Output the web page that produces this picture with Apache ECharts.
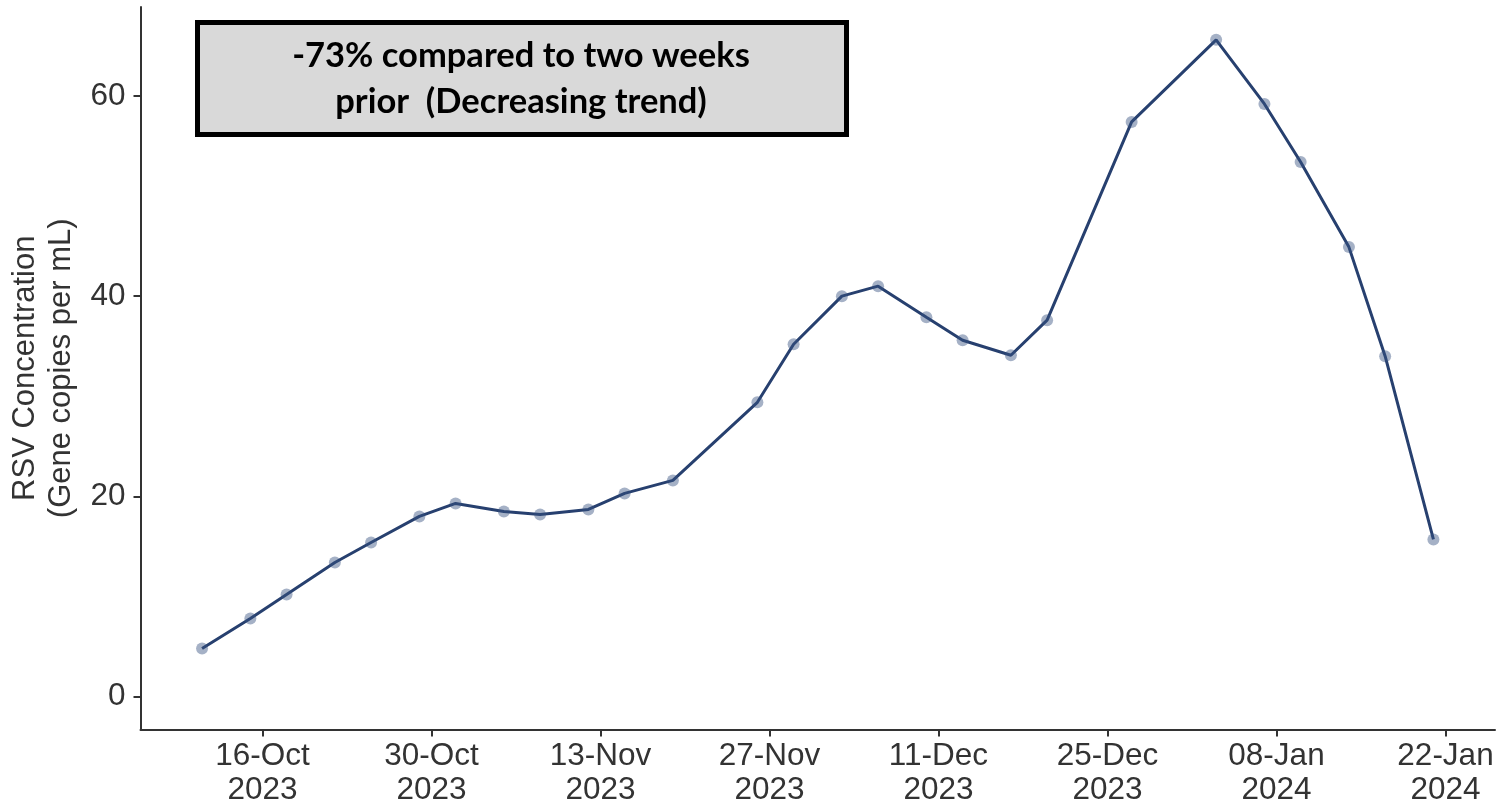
<!DOCTYPE html>
<html>
<head>
<meta charset="utf-8">
<script src="https://cdn.jsdelivr.net/npm/echarts@6/dist/echarts.min.js"></script>
<style>
html,body{margin:0;padding:0;background:#fff;}
#chart{width:1498px;height:807px;}
</style>
</head>
<body>
<div id="chart"></div>
<script>
// ---- data ----
const sampleDates = ['2023-10-11','2023-10-15','2023-10-18','2023-10-22','2023-10-25','2023-10-29',
  '2023-11-01','2023-11-05','2023-11-08','2023-11-12','2023-11-15','2023-11-19','2023-11-26',
  '2023-11-29','2023-12-03','2023-12-06','2023-12-10','2023-12-13','2023-12-17','2023-12-20',
  '2023-12-27','2024-01-03','2024-01-07','2024-01-10','2024-01-14','2024-01-17','2024-01-21'];
const rsvValues = [4.8, 7.8, 10.2, 13.4, 15.4, 18.0,
  19.3, 18.5, 18.2, 18.7, 20.3, 21.6, 29.4,
  35.2, 40.0, 41.0, 37.9, 35.6, 34.1, 37.6,
  57.4, 65.6, 59.2, 53.4, 44.9, 34.0, 15.7];
const xTickDates = ['2023-10-16','2023-10-30','2023-11-13','2023-11-27','2023-12-11','2023-12-25','2024-01-08','2024-01-22'];
const xTickLabels = ['16-Oct\n2023','30-Oct\n2023','13-Nov\n2023','27-Nov\n2023','11-Dec\n2023','25-Dec\n2023','08-Jan\n2024','22-Jan\n2024'];
const yTicks = [0, 20, 40, 60];
const yTitle = 'RSV Concentration\n(Gene copies per mL)';
const noteText = '-73% compared to two weeks\nprior  (Decreasing trend)';

// ---- build ----
const toMs = d => Date.parse(d + 'T00:00:00Z');
const xs = sampleDates.map(toMs);
const xTicks = xTickDates.map(toMs);
const xSpan = xs[xs.length - 1] - xs[0];
const xMin = xs[0] - 0.05 * xSpan;
const xMax = xs[xs.length - 1] + 0.05 * xSpan;
const yTop = Math.max(...rsvValues);
const yMin = -0.05 * yTop;
const yMax = yTop * 1.05;
const seriesData = xs.map((x, i) => [x, rsvValues[i]]);

const axisColor = '#333333';
const labelFont = {fontFamily: 'Liberation Sans, Arial, sans-serif', fontSize: 31.5, color: '#333333'};

const chart = echarts.init(document.getElementById('chart'));
chart.setOption({
  animation: false,
  backgroundColor: '#ffffff',
  grid: {left: 140.5, right: 3, top: 7, bottom: 77.5, containLabel: false, outerBoundsMode: 'none'},
  xAxis: {
    type: 'value', min: xMin, max: xMax,
    axisLine: {show: true, onZero: false, lineStyle: {color: axisColor, width: 2}},
    axisTick: {show: true, length: 7, customValues: xTicks, lineStyle: {color: axisColor, width: 2}},
    splitLine: {show: false},
    axisLabel: Object.assign({
      customValues: xTicks, margin: 10, lineHeight: 34,
      formatter: v => { const i = xTicks.indexOf(v); return i >= 0 ? xTickLabels[i] : ''; }
    }, labelFont)
  },
  yAxis: {
    type: 'value', min: yMin, max: yMax,
    name: yTitle, nameLocation: 'middle', nameRotate: 90, nameGap: 58,
    nameTextStyle: {fontFamily: 'Liberation Sans, Arial, sans-serif', fontSize: 31, color: '#333333', lineHeight: 36},
    axisLine: {show: true, onZero: false, lineStyle: {color: axisColor, width: 2}},
    axisTick: {show: true, length: 7, customValues: yTicks, lineStyle: {color: axisColor, width: 2}},
    splitLine: {show: false},
    axisLabel: Object.assign({customValues: yTicks, margin: 15}, labelFont)
  },
  series: [{
    type: 'line', data: seriesData, showAllSymbol: true,
    symbol: 'circle', symbolSize: 12,
    lineStyle: {color: '#27406f', width: 3},
    itemStyle: {color: 'rgba(55,82,128,0.45)', borderWidth: 0},
    emphasis: {disabled: true}, z: 3
  }],
  graphic: [{
    type: 'group', left: 195, top: 20, z: 10,
    children: [{
      type: 'rect', shape: {x: 2.5, y: 2.5, width: 649, height: 112},
      style: {fill: '#d9d9d9', stroke: '#000', lineWidth: 5}
    }, {
      type: 'text', x: 326, y: 59,
      style: {text: noteText, font: 'bold 34.5px Lato, sans-serif', fill: '#000', align: 'center', verticalAlign: 'middle', lineHeight: 46}
    }]
  }]
});
</script>
</body>
</html>
